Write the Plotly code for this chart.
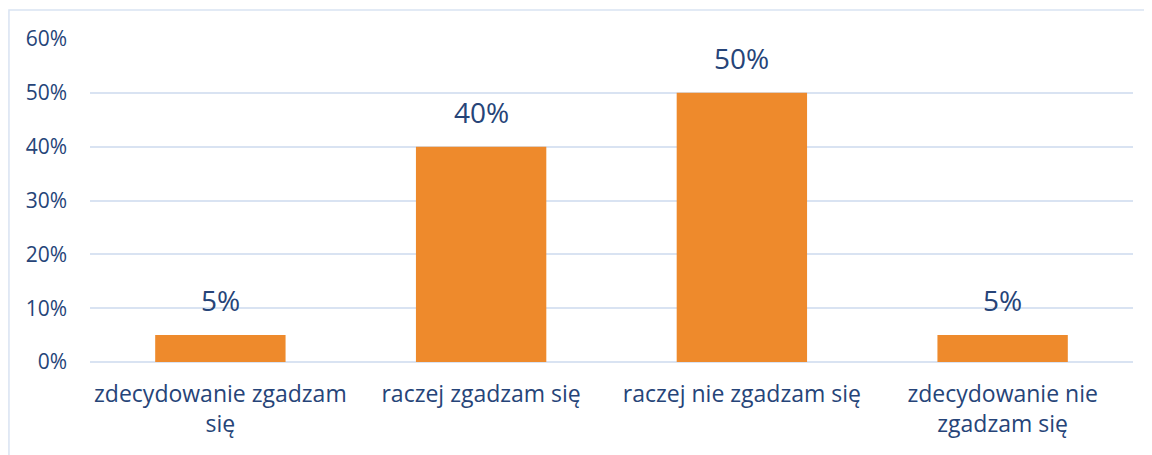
import plotly.graph_objects as go

categories = ["zdecydowanie zgadzam<br>się", "raczej zgadzam się",
              "raczej nie zgadzam się", "zdecydowanie nie<br>zgadzam się"]
values = [0.05, 0.40, 0.50, 0.05]
labels = ["5%", "40%", "50%", "5%"]
tick_vals = [0, 0.1, 0.2, 0.3, 0.4, 0.5, 0.6]
tick_text = ["0%", "10%", "20%", "30%", "40%", "50%", "60%"]

text_color = "#264478"
grid_color = "#D9E3F2"
font_family = "Open Sans, Lato, Liberation Sans, sans-serif"

fig = go.Figure(go.Bar(
    x=categories, y=values,
    marker=dict(color="#EE8A2C", line=dict(width=0)),
    width=0.5, hoverinfo="skip",
))

for c, v, t in zip(categories, values, labels):
    fig.add_annotation(x=c, y=v, text=t, showarrow=False, yanchor="bottom",
                       yshift=14, font=dict(size=28, color=text_color, family=font_family))

fig.update_layout(
    width=1144, height=447,
    margin=dict(l=82, r=19, t=31, b=93),
    paper_bgcolor="white", plot_bgcolor="white",
    showlegend=False,
    font=dict(family=font_family, size=21, color=text_color),
    xaxis=dict(showgrid=False, showline=False, ticks="", ticklabelstandoff=16,
               tickfont=dict(size=23, color=text_color)),
    yaxis=dict(range=[0, 0.6], tickvals=tick_vals, ticktext=tick_text,
               showgrid=True, gridcolor=grid_color, gridwidth=2,
               zeroline=True, zerolinecolor=grid_color, zerolinewidth=2,
               showline=False, ticks="", ticklabelstandoff=22,
               tickfont=dict(size=21, color=text_color)),
    shapes=[dict(type="rect", xref="paper", yref="paper",
                 x0=-0.0777, x1=1.1, y0=-0.5, y1=1.0898,
                 line=dict(color=grid_color, width=1.5), layer="below")],
)

fig.write_html("out.html")
